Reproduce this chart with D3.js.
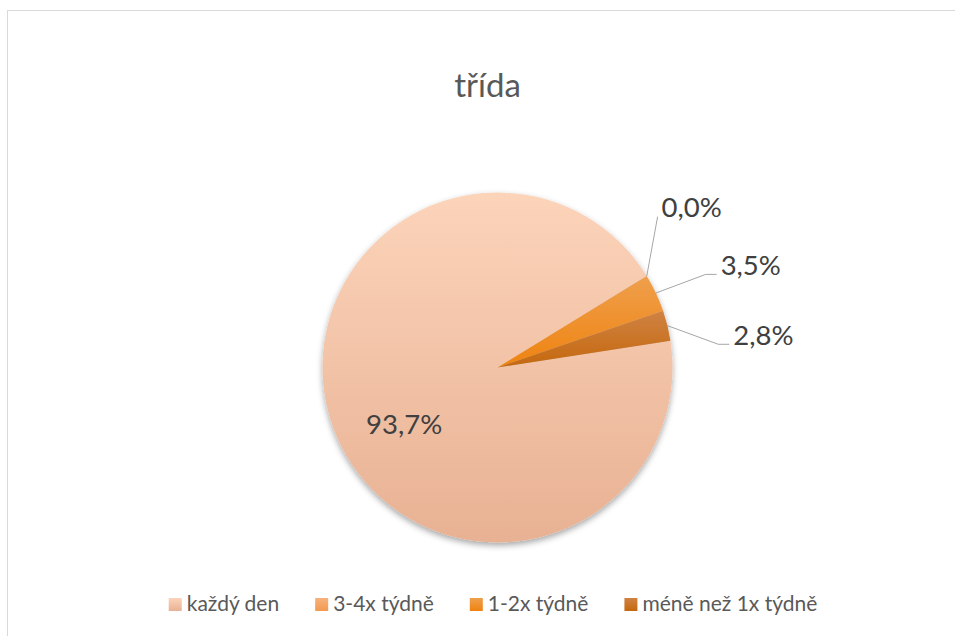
<!DOCTYPE html>
<html>
<head>
<meta charset="utf-8">
<script src="https://cdn.jsdelivr.net/npm/d3@7"></script>
<style>
  body { margin: 0; background: #fff; }
  svg { display: block; font-family: Lato, 'Open Sans', sans-serif; }
</style>
</head>
<body>
<svg id="chart"></svg>
<script>
// Pie chart "třída" — share of answers per frequency category.

const categories = ["každý den", "3-4x týdně", "1-2x týdně", "méně než 1x týdně"];
const shares = [93.7, 0.0, 3.5, 2.8];
const colorTop = ["#fcd4ba", "#f8b27c", "#ef9f4c", "#d08243"];
const colorBottom = ["#e8b193", "#f29a50", "#ef8310", "#c4680e"];

const W = 955, H = 636;
const CX = 497.5, CY = 367.5, R = 175;
const START = 81.2; // angle of first slice, degrees
const rad = (d) => d * Math.PI / 180;
const polar = (deg, r) => [CX + r * Math.sin(rad(deg)), CY - r * Math.cos(rad(deg))];

const fmt = d3.formatLocale({ decimal: ",", thousands: " ", grouping: [3], currency: ["", " Kč"] })
  .format(".1f");

const svg = d3.select("#chart").attr("width", W).attr("height", H);

// chart area border
svg.append("rect")
  .attr("x", 7.5).attr("y", 10.5).attr("width", W + 20).attr("height", H + 20)
  .attr("fill", "#fff").attr("stroke", "#d9d9d9").attr("stroke-width", 1);

const defs = svg.append("defs");
categories.forEach((c, i) => {
  const g = defs.append("linearGradient").attr("id", `grad${i}`)
    .attr("x1", 0).attr("y1", 0).attr("x2", 0).attr("y2", 1);
  g.append("stop").attr("offset", "0%").attr("stop-color", colorTop[i]);
  g.append("stop").attr("offset", "100%").attr("stop-color", colorBottom[i]);
});
const shadow = defs.append("filter").attr("id", "shadow")
  .attr("x", "-20%").attr("y", "-20%").attr("width", "140%").attr("height", "140%");
shadow.append("feDropShadow").attr("dx", 0).attr("dy", 3).attr("stdDeviation", 3)
  .attr("flood-color", "#000").attr("flood-opacity", 0.35);

svg.append("text")
  .attr("x", 487.5).attr("y", 97).attr("text-anchor", "middle")
  .style("font-size", "33px").style("fill", "#595959")
  .text("třída");

const data = categories.map((c, i) => ({ name: c, value: shares[i], i }));
const pie = d3.pie().sort(null).value((d) => d.value)
  .startAngle(rad(START)).endAngle(rad(START + 360));
const arcs = pie(data);
const arc = d3.arc().innerRadius(0).outerRadius(R);

const pieG = svg.append("g").attr("transform", `translate(${CX},${CY})`)
  .attr("filter", "url(#shadow)");
pieG.selectAll("path").data(arcs).enter().append("path")
  .attr("d", arc)
  .attr("fill", (d) => `url(#grad${d.data.i})`);

// data labels
const labelFont = "27.5px";
const inside = arcs[0];
const [ix, iy] = polar(238.9, 109);
svg.append("text")
  .attr("x", ix).attr("y", iy + 10).attr("text-anchor", "middle")
  .style("font-size", labelFont).style("fill", "#404040")
  .text(fmt(inside.data.value) + "%");

// outside labels with leader lines: elbow angle, elbow radius, horizontal tail
const place = [null, [46.7, 220, 0], [65.9, 228, 11], [84.0, 222, 11]];
arcs.slice(1).forEach((a) => {
  const [deg, er, tail] = place[a.data.i];
  const mid = ((a.startAngle + a.endAngle) / 2) * 180 / Math.PI;
  const p0 = polar(mid, R);
  const p1 = polar(deg, er);
  const p2 = [p1[0] + tail, p1[1]];
  svg.append("polyline")
    .attr("points", [p0, p1, p2].map((p) => p.join(",")).join(" "))
    .attr("fill", "none").attr("stroke", "#a6a6a6").attr("stroke-width", 1);
  svg.append("text")
    .attr("x", p2[0] + 4).attr("y", p2[1] + 0.5)
    .style("font-size", labelFont).style("fill", "#404040")
    .text(fmt(a.data.value) + "%");
});

// legend
const legend = svg.append("g");
const items = legend.selectAll("g").data(data).enter().append("g");
items.append("rect").attr("width", 13).attr("height", 13).attr("y", -13)
  .attr("fill", (d) => `url(#grad${d.i})`);
items.append("text").attr("x", 18).attr("y", 0)
  .style("font-size", "21px").style("fill", "#595959")
  .text((d) => d.name);
let lx = 0;
items.each(function () {
  const it = d3.select(this);
  it.attr("transform", `translate(${lx},0)`);
  lx += 18 + it.select("text").node().getComputedTextLength() + 36;
});
lx -= 36;
legend.attr("transform", `translate(${493 - lx / 2},611)`);
</script>
</body>
</html>
